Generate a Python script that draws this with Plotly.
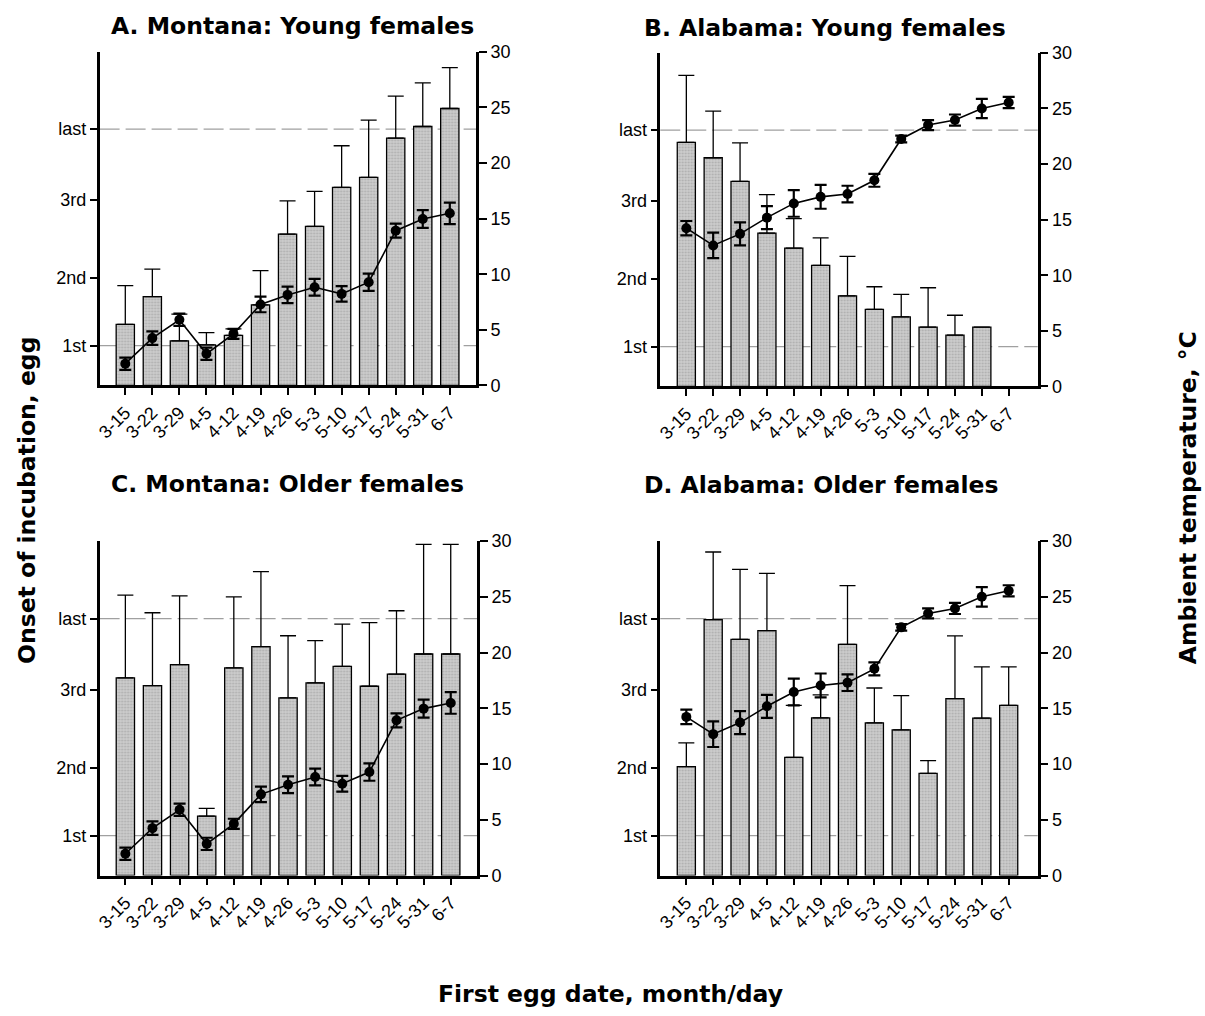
import plotly.graph_objects as go

dates = ["3-15", "3-22", "3-29", "4-5", "4-12", "4-19", "4-26", "5-3", "5-10", "5-17", "5-24", "5-31", "6-7"]

# Onset of incubation (bars), plotted on the same vertical scale as temperature
onset_ticks = [3.58, 9.65, 16.67, 23.05]
onset_labels = ["1st", "2nd", "3rd", "last"]

mt_young = [5.48, 7.99, 4.01, 3.65, 4.49, 7.25, 13.6, 14.31, 17.81, 18.71, 22.25, 23.29, 24.91]
mt_young_se = [3.5, 2.46, 2.4, 1.1, 0.6, 3.08, 3.0, 3.15, 3.75, 5.15, 3.77, 3.93, 3.68]

al_young = [21.96, 20.57, 18.45, 13.78, 12.44, 10.89, 8.15, 6.93, 6.25, 5.33, 4.61, 5.33, None]
al_young_se = [6.02, 4.19, 3.45, 3.48, 2.66, 2.47, 3.55, 2.03, 2.02, 3.54, 1.79, 0.0, 0.0]

mt_older = [17.73, 17.04, 18.92, 5.33, 18.62, 20.53, 15.94, 17.28, 18.77, 16.98, 18.06, 19.87, 19.87]
mt_older_se = [7.42, 6.53, 6.17, 0.69, 6.38, 6.73, 5.57, 3.79, 3.79, 5.7, 5.69, 9.83, 9.83]

al_older = [9.76, 22.95, 21.19, 21.96, 10.6, 14.14, 20.74, 13.69, 13.07, 9.17, 15.86, 14.11, 15.27]
al_older_se = [2.14, 6.07, 6.28, 5.15, 4.67, 2.06, 5.27, 3.13, 3.06, 1.13, 5.63, 4.61, 3.45]

# Ambient temperature (line), degrees C
mt_temp = [1.95, 4.25, 5.9, 2.84, 4.64, 7.28, 8.14, 8.83, 8.23, 9.28, 13.92, 14.97, 15.48]
mt_temp_se = [0.55, 0.6, 0.55, 0.55, 0.45, 0.7, 0.75, 0.75, 0.7, 0.78, 0.63, 0.8, 0.97]
al_temp = [14.23, 12.68, 13.72, 15.18, 16.46, 17.05, 17.3, 18.54, 22.26, 23.51, 23.96, 25.0, 25.54]
al_temp_se = [0.65, 1.15, 1.03, 1.03, 1.2, 1.07, 0.75, 0.58, 0.3, 0.45, 0.5, 0.87, 0.5]

panels = [
    ("A. Montana: Young females", mt_young, mt_young_se, mt_temp, mt_temp_se),
    ("B. Alabama: Young females", al_young, al_young_se, al_temp, al_temp_se),
    ("C. Montana: Older females", mt_older, mt_older_se, mt_temp, mt_temp_se),
    ("D. Alabama: Older females", al_older, al_older_se, al_temp, al_temp_se),
]

W, H = 1205, 1016
FONT = "Liberation Sans, Arial, Helvetica, sans-serif"
BFONT = "DejaVu Sans, Liberation Sans, Arial, sans-serif"


def py(y):
    """target pixel row -> paper fraction (compensates the capture's vertical fit)"""
    return 1 - ((y - 9) / 0.982) / H


# pixel layout of each panel: left, right, top, bottom
boxes = [
    (95, 473, 51, 385),
    (658, 1037, 52, 386),
    (95, 474, 541, 876),
    (658, 1037, 541, 876),
]
xranges = [[-0.95, 12.97], [-0.97, 13.08], [-0.95, 12.97], [-0.97, 13.08]]
title_pos = [(104, 25), (640, 27), (104, 484), (640, 485)]

fig = go.Figure()
layout = dict(
    width=W, height=H, margin=dict(l=0, r=0, t=0, b=0),
    paper_bgcolor="white", plot_bgcolor="white", showlegend=False,
    font=dict(family=FONT, color="black"), bargap=0.325,
)
shapes = []
annotations = []

for i, (title, bars, bars_se, temp, temp_se) in enumerate(panels):
    k = i + 1
    l, r, t, b = boxes[i]
    xd = [l / W, r / W]
    yd = [py(b), py(t)]
    xa = "x" if k == 1 else f"x{k}"
    ya_left = "y" if k == 1 else f"y{k}"
    ya_right = f"y{k + 4}"

    fig.add_trace(go.Bar(
        x=list(range(len(dates))), y=bars, xaxis=xa, yaxis=ya_left,
        marker=dict(color="#c4c4c4", line=dict(color="black", width=1.3),
                    pattern=dict(shape=".", fgcolor="#8a8a8a", bgcolor="#cdcdcd", size=3, solidity=0.35)),
        error_y=dict(type="data", array=bars_se, arrayminus=[0] * len(dates), symmetric=False,
                     color="black", thickness=1.3, width=8),
    ))
    fig.add_trace(go.Scatter(
        x=list(range(len(dates))), y=temp, xaxis=xa, yaxis=ya_right,
        mode="lines+markers",
        line=dict(color="black", width=1.6),
        marker=dict(color="black", size=10),
        error_y=dict(type="data", array=temp_se, color="black", thickness=2.2, width=6),
    ))

    key_x = "xaxis" if k == 1 else f"xaxis{k}"
    key_yl = "yaxis" if k == 1 else f"yaxis{k}"
    key_yr = f"yaxis{k + 4}"
    layout[key_x] = dict(
        domain=xd, anchor=ya_left, range=xranges[i],
        tickmode="array", tickvals=list(range(len(dates))), ticktext=dates,
        tickangle=-45, ticks="outside", ticklen=7, tickwidth=2, tickcolor="black",
        showline=True, linecolor="black", linewidth=2.5, showgrid=False, zeroline=False,
        tickfont=dict(size=18, family=FONT), fixedrange=True,
    )
    layout[key_yl] = dict(
        domain=yd, anchor=xa, range=[0, 30],
        tickmode="array", tickvals=onset_ticks, ticktext=onset_labels,
        ticks="outside", ticklen=7, tickwidth=2, tickcolor="black",
        showline=True, linecolor="black", linewidth=2.5, showgrid=False, zeroline=False,
        tickfont=dict(size=18, family=FONT),
    )
    layout[key_yr] = dict(
        overlaying=ya_left, anchor=xa, side="right", range=[0, 30],
        tickmode="array", tickvals=[0, 5, 10, 15, 20, 25, 30],
        ticks="outside", ticklen=8, tickwidth=2, tickcolor="black",
        showline=True, linecolor="black", linewidth=2.5, showgrid=False, zeroline=False,
        tickfont=dict(size=18, family=FONT),
    )
    # dashed reference lines at 1st and last egg
    for v in (onset_ticks[0], onset_ticks[3]):
        shapes.append(dict(type="line", xref=f"{xa} domain", yref=ya_left,
                           x0=0, x1=1, y0=v, y1=v, layer="below",
                           line=dict(color="#a0a0a0", width=1.2, dash="20px,6px")))
    tx, ty = title_pos[i]
    annotations.append(dict(text=f"<b>{title}</b>", x=tx / W, y=py(ty), xref="paper", yref="paper",
                            xanchor="left", yanchor="middle", showarrow=False,
                            font=dict(size=23.5, family=BFONT)))

annotations.append(dict(text="<b>Onset of incubation, egg</b>", x=22 / W, y=py(500),
                        xref="paper", yref="paper", textangle=-90, showarrow=False,
                        xanchor="center", yanchor="middle", font=dict(size=23.5, family=BFONT)))
annotations.append(dict(text="<b>Ambient temperature, °C</b>", x=1188 / W, y=py(498),
                        xref="paper", yref="paper", textangle=-90, showarrow=False,
                        xanchor="center", yanchor="middle", font=dict(size=23.5, family=BFONT)))
annotations.append(dict(text="<b>First egg date, month/day</b>", x=608 / W, y=py(995),
                        xref="paper", yref="paper", showarrow=False,
                        xanchor="center", yanchor="middle", font=dict(size=23.5, family=BFONT)))

layout["shapes"] = shapes
layout["annotations"] = annotations
fig.update_layout(**layout)
fig.write_html("out.html")
